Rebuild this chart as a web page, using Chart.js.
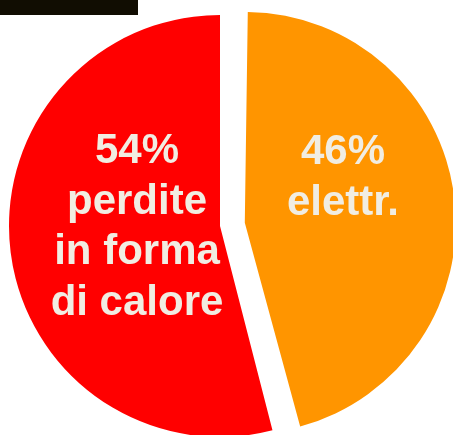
<!DOCTYPE html>
<html>
<head>
<meta charset="utf-8">
<script src="https://cdn.jsdelivr.net/npm/chart.js@4/dist/chart.umd.min.js"></script>
<style>
  html, body { margin: 0; padding: 0; background: #ffffff; }
  canvas { display: block; }
</style>
</head>
<body>
<canvas id="pie" width="453" height="435"></canvas>
<script>
// Ripartizione dell'energia: quota elettrica e perdite termiche
const categories = ['elettr.', 'perdite in forma di calore'];
const values = [46, 54];
const sliceColors = ['#ff9500', '#ff0000'];
// righe del testo dentro ogni spicchio (dopo la percentuale)
const categoryLines = [['elettr.'], ['perdite', 'in forma', 'di calore']];
const sliceOffsets = [100, 0];

const PIE_RADIUS = 211;
const TEXT_COLOR = '#f1ede2';
const FONT = 'bold 42px "Liberation Sans", Arial, sans-serif';
const LINE_HEIGHT = 50.7;

// posizione del blocco di testo rispetto al centro della torta
const textAnchors = [
  { dx: 123, firstBaseline: -62 },
  { dx: -83, firstBaseline: -63 }
];

// lo spicchio staccato mantiene lo stesso raggio degli altri
const keepRadiusPlugin = {
  id: 'keepRadius',
  afterDatasetUpdate(chart, args) {
    args.meta.data.forEach(arc => {
      const off = (arc.options && arc.options.offset || 0) / 4;
      const fix = 1 - Math.sin(Math.min(Math.PI, arc.circumference || 0));
      arc.outerRadius = PIE_RADIUS - off * fix;
    });
  }
};

// barra scura in alto a sinistra
const topBarPlugin = {
  id: 'topBar',
  beforeDraw(chart) {
    const ctx = chart.ctx;
    ctx.save();
    ctx.fillStyle = '#110d02';
    ctx.fillRect(0, 0, 138, 15);
    ctx.restore();
  }
};

// etichette dentro gli spicchi
const sliceTextPlugin = {
  id: 'sliceText',
  afterDatasetsDraw(chart) {
    const ctx = chart.ctx;
    const meta = chart.getDatasetMeta(0);
    ctx.save();
    ctx.font = FONT;
    ctx.fillStyle = TEXT_COLOR;
    ctx.textAlign = 'center';
    ctx.textBaseline = 'alphabetic';
    meta.data.forEach((arc, i) => {
      const lines = [values[i] + '%', ...categoryLines[i]];
      const a = textAnchors[i];
      lines.forEach((line, k) => {
        ctx.fillText(line, arc.x + a.dx, arc.y + a.firstBaseline + k * LINE_HEIGHT);
      });
    });
    ctx.restore();
  }
};

new Chart(document.getElementById('pie'), {
  type: 'pie',
  data: {
    labels: categories,
    datasets: [{
      data: values,
      backgroundColor: sliceColors,
      borderWidth: 0,
      offset: sliceOffsets,
      radius: PIE_RADIUS
    }]
  },
  options: {
    responsive: false,
    animation: false,
    devicePixelRatio: 1,
    rotation: 0,
    layout: { padding: { left: 0, right: 13, top: 17, bottom: 0 } },
    plugins: {
      legend: { display: false },
      tooltip: { enabled: false }
    },
    events: []
  },
  plugins: [keepRadiusPlugin, topBarPlugin, sliceTextPlugin]
});
</script>
</body>
</html>
